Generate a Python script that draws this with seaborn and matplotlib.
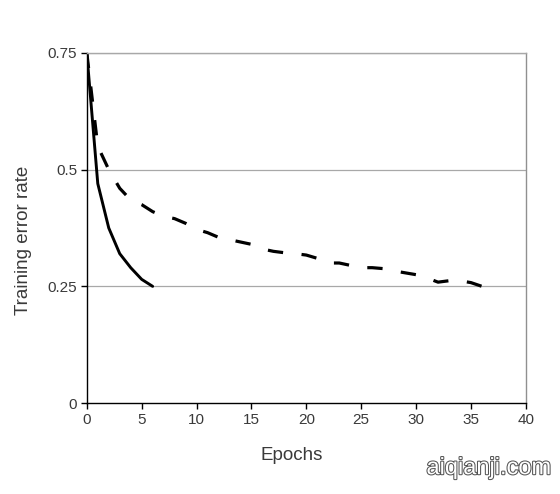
import matplotlib
matplotlib.use("Agg")
import matplotlib.pyplot as plt
import matplotlib.patheffects as pe
import pandas as pd
import seaborn as sns

# values
relu_epochs = [0, 1, 2, 3, 4, 5, 6]
relu_error = [0.75, 0.47, 0.375, 0.32, 0.29, 0.265, 0.25]

tanh_epochs = list(range(0, 37))
tanh_error = [0.75, 0.55, 0.50, 0.46, 0.435, 0.425, 0.41, 0.40, 0.395, 0.385,
              0.372, 0.365, 0.355, 0.35, 0.345, 0.34, 0.33, 0.325, 0.322, 0.32,
              0.317, 0.31, 0.30, 0.30, 0.295, 0.29, 0.29, 0.288, 0.283, 0.279,
              0.275, 0.268, 0.259, 0.262, 0.262, 0.258, 0.25]

x_ticks = [0, 5, 10, 15, 20, 25, 30, 35, 40]
y_ticks = [0, 0.25, 0.5, 0.75]
y_labels = ["0", "0.25", "0.5", "0.75"]

relu_df = pd.DataFrame({"epoch": relu_epochs, "error": relu_error})
tanh_df = pd.DataFrame({"epoch": tanh_epochs, "error": tanh_error})

sns.set_style("white")
plt.rcParams["font.family"] = ["Liberation Sans", "DejaVu Sans"]

fig = plt.figure(figsize=(5.6, 4.94), dpi=100)
ax = fig.add_axes([0.155, 0.184, 0.784, 0.709])

for y in y_ticks[1:]:
    ax.axhline(y, color="#a8a8a8", lw=0.9, zorder=0)

sns.lineplot(data=relu_df, x="epoch", y="error", ax=ax, color="black", lw=2.1)
sns.lineplot(data=tanh_df, x="epoch", y="error", ax=ax, color="black", lw=2.3,
             dashes=False)
ax.lines[-1].set_dashes((4.8, 5.8))

ax.set_xlim(0, 40)
ax.set_ylim(0, 0.75)
ax.set_xticks(x_ticks)
ax.set_yticks(y_ticks)
ax.set_yticklabels(y_labels)
ax.tick_params(axis="both", direction="out", length=4, width=1, color="black",
               labelsize=11, labelcolor="#3a3a3a", pad=3)
ax.tick_params(axis="x", bottom=True)
ax.tick_params(axis="y", left=True)

ax.set_xlabel("Epochs", fontsize=13.5, color="#3a3a3a")
ax.xaxis.set_label_coords(0.467, -0.126)
ax.set_ylabel("Training error rate", fontsize=13.5, color="#3a3a3a")
ax.yaxis.set_label_coords(-0.125, 0.466)

ax.spines["left"].set_color("black")
ax.spines["bottom"].set_color("black")
ax.spines["right"].set_color("#909090")
ax.spines["top"].set_color("#a8a8a8")
for s in ax.spines.values():
    s.set_linewidth(1.0)

fig.text(0.985, 0.03, "aiqianji.com", ha="right", va="bottom", fontsize=17,
         color="white", path_effects=[pe.withStroke(linewidth=1.5, foreground="#555555")])

fig.savefig("out.png", dpi=100, facecolor="white")
